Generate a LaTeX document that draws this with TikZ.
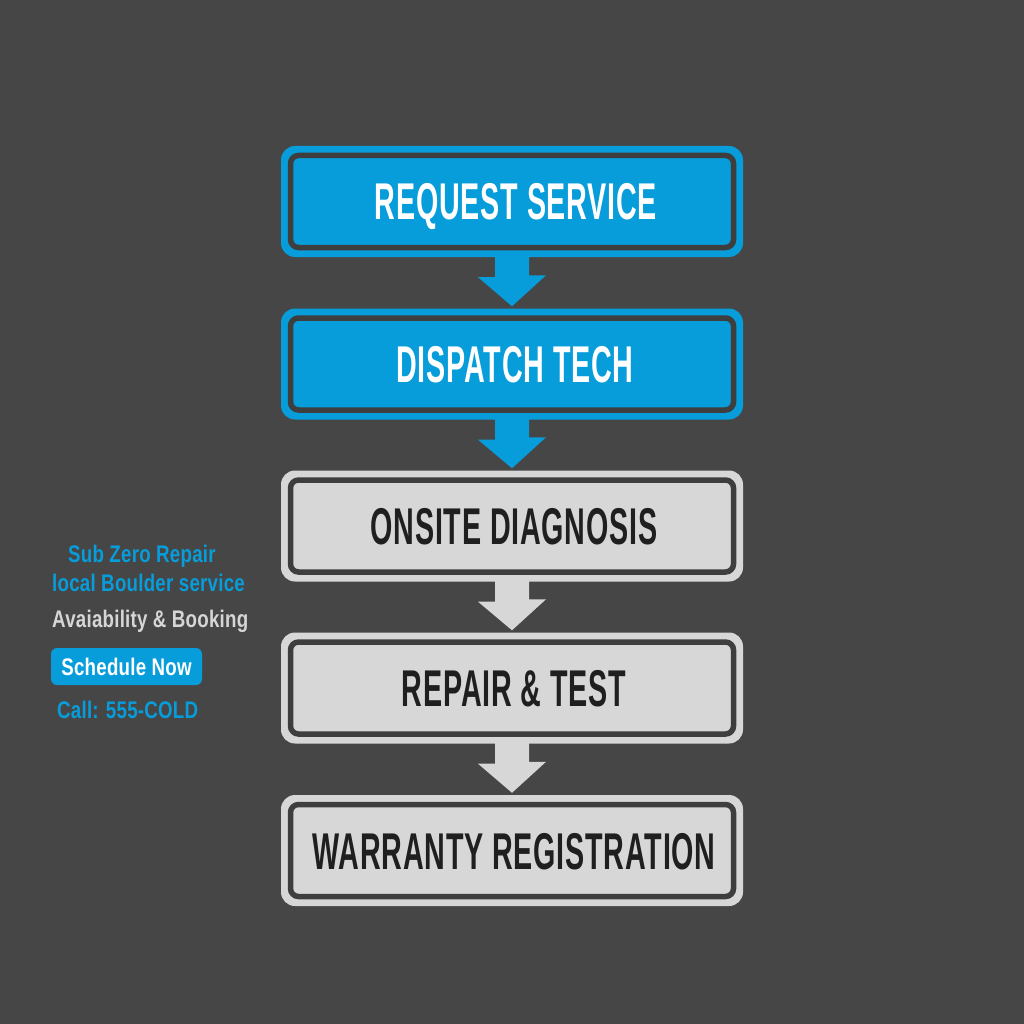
\documentclass[tikz,border=0pt]{standalone}
\usepackage{fontspec}
\newfontfamily\condfont[FakeStretch=0.555,LetterSpace=1.5]{Liberation Sans}
\newfontfamily\sidefont[FakeStretch=0.78,LetterSpace=1]{Liberation Sans}
\definecolor{bgc}{HTML}{464646}
\definecolor{bluec}{HTML}{079CDA}
\definecolor{grayc}{HTML}{D7D7D7}
\definecolor{darkc}{HTML}{3E3E3E}
\definecolor{txtdark}{HTML}{1F1F1F}
\definecolor{sidegray}{HTML}{D6D6D6}
\tikzset{
  outerbox/.style={rectangle, rounded corners=14pt, minimum width=462pt, minimum height=111pt, inner sep=0pt},
  innerbox/.style={rectangle, rounded corners=8pt, draw=darkc, line width=5.5pt, minimum width=443pt, minimum height=92pt, inner sep=0pt},
  mainlabel/.style={inner sep=0pt, anchor=base, font=\condfont\bfseries\fontsize{51.7}{60}\selectfont},
  sidelabel/.style={inner sep=0pt, anchor=base west, font=\sidefont\bfseries\fontsize{24}{28}\selectfont},
}
\newcommand{\flowarrow}[3]{%
  \fill[#1] ([xshift=-17pt,yshift=1pt]#2.south) -- ++(0,21) -- ++(-17,0)
    -- ([yshift=2pt]#3.north) -- ++(34,-31) -- ++(-17,0) -- ([xshift=17pt,yshift=1pt]#2.south) -- cycle;}
\begin{document}
\begin{tikzpicture}[x=1pt,y=-1pt]
\fill[bgc] (0,0) rectangle (1024,1024);
\useasboundingbox (0,0) rectangle (1024,1024);

% boxes
\node[outerbox, fill=bluec] (b1) at (512,201.5) {};
\node[innerbox, fill=bluec] (b1i) at (b1) {};
\node[mainlabel, text=white] (t1) at (516,220) {REQUEST SERVICE};

\node[outerbox, fill=bluec] (b2) at (512,364) {};
\node[innerbox, fill=bluec] (b2i) at (b2) {};
\node[mainlabel, text=white] (t2) at (515,382.5) {DISPATCH TECH};

\node[outerbox, fill=grayc] (b3) at (512,526) {};
\node[innerbox, fill=grayc] (b3i) at (b3) {};
\node[mainlabel, text=txtdark] (t3) at (514,544.5) {ONSITE DIAGNOSIS};

\node[outerbox, fill=grayc] (b4) at (512,688) {};
\node[innerbox, fill=grayc] (b4i) at (b4) {};
\node[mainlabel, text=txtdark] (t4) at (514,706.5) {REPAIR \& TEST};

\node[outerbox, fill=grayc] (b5) at (512,850.5) {};
\node[innerbox, fill=grayc] (b5i) at (b5) {};
\node[mainlabel, text=txtdark] (t5) at (514,869) {WARRANTY REGISTRATION};

% arrows
\flowarrow{bluec}{b1}{b2}
\flowarrow{bluec}{b2}{b3}
\flowarrow{grayc}{b3}{b4}
\flowarrow{grayc}{b4}{b5}

% side panel
\node[sidelabel, text=bluec] (s1) at (68,562) {Sub Zero Repair};
\node[sidelabel, text=bluec] (s2) at (52,591) {local Boulder service};
\node[sidelabel, text=sidegray] (s3) at (52,627) {Avaiability \& Booking};
\node[rectangle, rounded corners=6pt, fill=bluec, minimum width=151pt, minimum height=37pt, inner sep=0pt] (btn) at (126.5,666.5) {};
\node[inner sep=0pt, anchor=base, text=white, font=\sidefont\bfseries\fontsize{24}{28}\selectfont] (btnt) at (126.5,675) {Schedule Now};
\node[sidelabel, text=bluec] (s4) at (57,718) {Call: 555-COLD};
\end{tikzpicture}
\end{document}
